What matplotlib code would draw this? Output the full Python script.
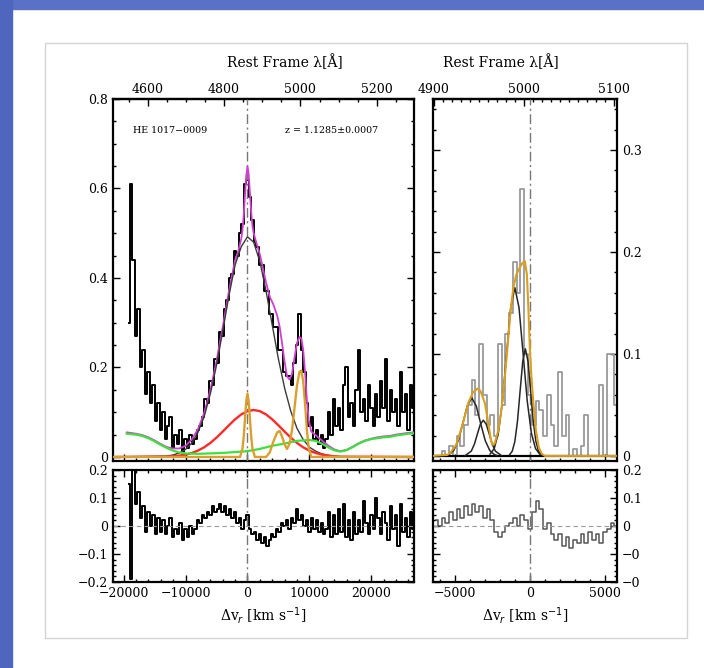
import numpy as np
import matplotlib
matplotlib.use("Agg")
import matplotlib.pyplot as plt
from matplotlib.patches import Rectangle
from matplotlib.ticker import MultipleLocator, FuncFormatter, FixedLocator, FixedFormatter

C_KMS = 299792.458
HBETA = 4861.3
OIII = 5006.8

# --- Hbeta region: spectrum + residuals, one value every 400 km/s from -19200 km/s
hb_v0, hb_dv = -19200, 400
hb_flux = [
    0.30, 0.61, 0.44, 0.27, 0.33, 0.20, 0.24, 0.14, 0.19, 0.12,
    0.16, 0.08, 0.12, 0.06, 0.10, 0.04, 0.07, 0.09, 0.02, 0.05,
    0.03, 0.06, 0.01, 0.04, 0.02, 0.05, 0.03, 0.04, 0.06, 0.07,
    0.09, 0.13, 0.12, 0.17, 0.16, 0.22, 0.21, 0.28, 0.27, 0.33,
    0.35, 0.40, 0.41, 0.46, 0.45, 0.50, 0.52, 0.61, 0.62, 0.58,
    0.53, 0.48, 0.47, 0.43, 0.43, 0.37, 0.37, 0.32, 0.32, 0.29,
    0.29, 0.24, 0.24, 0.19, 0.18, 0.18, 0.16, 0.21, 0.25, 0.32,
    0.24, 0.19, 0.12, 0.07, 0.09, 0.04, 0.06, 0.03, 0.05, 0.02,
    0.04, 0.10, 0.05, 0.13, 0.07, 0.11, 0.06, 0.16, 0.20, 0.09,
    0.12, 0.07, 0.15, 0.24, 0.10, 0.13, 0.08, 0.16, 0.11, 0.07,
    0.14, 0.09, 0.17, 0.11, 0.22, 0.08, 0.15, 0.10, 0.13, 0.07,
    0.19, 0.10, 0.14, 0.06, 0.16, 0.11,
]
hb_resid = [
    0.15, -0.19, 0.20, 0.08, 0.12, 0.03, 0.07, -0.02, 0.05, 0.00,
    0.04, -0.03, 0.03, -0.02, 0.02, -0.03, 0.00, 0.03, -0.04, -0.01,
    -0.03, 0.01, -0.05, -0.01, -0.04, 0.00, -0.03, -0.01, 0.02, 0.01,
    0.04, 0.03, 0.05, 0.04, 0.07, 0.05, 0.06, 0.08, 0.05, 0.07,
    0.04, 0.06, 0.03, 0.05, 0.01, 0.03, -0.01, 0.02, 0.04, -0.01,
    -0.03, -0.02, -0.05, -0.03, -0.06, -0.04, -0.07, -0.05, -0.03, -0.04,
    -0.01, -0.02, 0.01, 0.00, 0.02, -0.01, 0.03, 0.01, 0.06, 0.02,
    0.04, 0.00, 0.02, -0.02, 0.03, -0.01, 0.02, -0.02, 0.01, -0.03,
    -0.01, 0.05, -0.04, 0.04, -0.03, 0.06, -0.02, 0.08, -0.04, 0.02,
    -0.05, 0.05, -0.03, 0.02, -0.02, 0.09, 0.01, -0.03, 0.04, -0.01,
    0.10, 0.03, -0.03, 0.05, 0.01, -0.05, 0.07, -0.01, 0.04, -0.07,
    0.08, -0.02, 0.03, -0.04, 0.05, -0.01,
]

# fit components in the Hbeta panel (velocity km/s, flux)
total_v = [-19500, -18000, -17000, -16000, -15000, -14000, -13000, -12000, -11000, -10000,
           -9000, -8000, -7000, -6000, -5000, -4000, -3000, -2000, -1500, -1000,
           -800, -600, -400, -200, 0, 200, 400, 600, 800, 1000,
           1500, 2000, 3000, 3600, 4200, 4800, 5200, 5600, 6000, 6400,
           6800, 7200, 7600, 8000, 8400, 8700, 9000, 9300, 9600, 9900,
           10300, 11000, 12000, 13000, 14000, 15000, 16000, 17000, 18000, 19000,
           20000, 21000, 22000, 23000, 24000, 25000, 26000, 27000]
total_f = [0.055, 0.052, 0.049, 0.044, 0.037, 0.029, 0.022, 0.019, 0.019, 0.025,
           0.039, 0.062, 0.098, 0.149, 0.214, 0.290, 0.370, 0.440, 0.459, 0.488,
           0.508, 0.541, 0.585, 0.628, 0.650, 0.632, 0.590, 0.548, 0.517, 0.500,
           0.476, 0.453, 0.390, 0.358, 0.340, 0.316, 0.291, 0.253, 0.212, 0.180,
           0.173, 0.186, 0.222, 0.255, 0.268, 0.265, 0.240, 0.190, 0.127, 0.082,
           0.057, 0.049, 0.037, 0.026, 0.017, 0.013, 0.016, 0.023, 0.031, 0.037,
           0.041, 0.044, 0.046, 0.047, 0.050, 0.052, 0.054, 0.055]

broad_v = [-22000, -13000, -12000, -11000, -10000, -9000, -8000, -7000, -6000, -5000,
           -4000, -3000, -2000, -1000, 0, 1000, 2000, 3000, 4000, 5000,
           6000, 7000, 8000, 9000, 10000, 11000, 12000, 13000, 14000, 15000, 28000]
broad_f = [0.0, 0.002, 0.0045, 0.009, 0.017, 0.031, 0.055, 0.090, 0.141, 0.205,
           0.281, 0.360, 0.429, 0.470, 0.492, 0.480, 0.437, 0.371, 0.295, 0.219,
           0.154, 0.102, 0.064, 0.039, 0.022, 0.013, 0.007, 0.004, 0.0016, 0.0007, 0.0]

red_v = [-22000, -13000, -12000, -11000, -10000, -9000, -8000, -7000, -6000, -5000,
         -4000, -3000, -2000, -1000, 0, 1000, 2000, 3000, 4000, 5000,
         6000, 7000, 8000, 9000, 10000, 11000, 12000, 13000, 14000, 15000, 28000]
red_f = [0.0, 0.0007, 0.0016, 0.003, 0.0053, 0.0089, 0.0142, 0.0216, 0.0313, 0.0432,
         0.0567, 0.0707, 0.0841, 0.0951, 0.1024, 0.105, 0.1024, 0.0951, 0.0841, 0.0707,
         0.0567, 0.0432, 0.0313, 0.0216, 0.0142, 0.0089, 0.0053, 0.003, 0.0016, 0.0007, 0.0]

feii_v = [-19500, -18000, -17000, -16000, -15000, -14000, -13000, -12000, -11000, -10000,
          -8000, -6000, -4000, -2000, 0, 2000, 4000, 6000, 8000, 10000,
          11000, 12000, 13000, 14000, 15000, 16000, 17000, 18000, 19000, 20000,
          21000, 22000, 23000, 24000, 25000, 26000, 27000]
feii_f = [0.052, 0.050, 0.047, 0.042, 0.035, 0.027, 0.020, 0.014, 0.010, 0.008,
          0.007, 0.008, 0.009, 0.011, 0.013, 0.018, 0.025, 0.030, 0.036, 0.038,
          0.036, 0.030, 0.022, 0.015, 0.012, 0.015, 0.022, 0.030, 0.036, 0.040,
          0.042, 0.044, 0.045, 0.048, 0.050, 0.052, 0.053]

narrow_v = [-22000, -1200, -800, -600, -400, -200, 0, 200, 400, 600,
            800, 1200, 3000, 3600, 4200, 4800, 5200, 5600, 6000, 6400,
            6800, 7200, 7600, 8000, 8400, 8700, 9000, 9300, 9600, 9900,
            10300, 28000]
narrow_f = [0.0, 0.0, 0.019, 0.046, 0.085, 0.124, 0.142, 0.124, 0.085, 0.046,
            0.019, 0.0, 0.0, 0.010, 0.035, 0.055, 0.058, 0.045, 0.028, 0.018,
            0.030, 0.060, 0.110, 0.160, 0.190, 0.193, 0.170, 0.120, 0.060, 0.020,
            0.0, 0.0]

# --- [OIII] region: spectrum + residuals, one value every 250 km/s from -6250 km/s
ox_v0, ox_dv = -6250, 250
ox_flux = [
    0.00, 0.00, 0.005, 0.00, 0.01, 0.00, 0.02, 0.01, 0.03, 0.05,
    0.074, 0.04, 0.11, 0.06, 0.03, 0.04, 0.02, 0.11, 0.05, 0.12,
    0.14, 0.19, 0.16, 0.262, 0.10, 0.06, 0.03, 0.054, 0.045, 0.02,
    0.06, 0.03, 0.01, 0.082, 0.02, 0.04, 0.00, 0.007, 0.00, 0.01,
    0.04, 0.00, 0.00, 0.00, 0.07, 0.00, 0.10, 0.10, 0.05,
]
ox_resid = [
    0.02, 0.00, 0.03, 0.01, 0.05, 0.02, 0.06, 0.03, 0.07, 0.04,
    0.08, 0.05, 0.07, 0.03, 0.06, 0.02, -0.02, -0.04, -0.02, 0.00,
    0.01, 0.03, 0.00, 0.04, 0.02, -0.01, 0.05, 0.09, 0.06, -0.01,
    0.01, -0.03, -0.05, -0.03, -0.07, -0.04, -0.08, -0.05, -0.06, -0.03,
    -0.06, -0.02, -0.05, -0.03, -0.06, -0.02, -0.01, 0.01, 0.00,
]

ox_total_v = [-6500, -5500, -5300, -4900, -4500, -4100, -3800, -3500, -3300, -3000,
              -2800, -2600, -2500, -2350, -2100, -1900, -1700, -1500, -1300, -1100,
              -900, -700, -500, -333, -200, -100, 0, 100, 220, 400,
              600, 800, 1000, 6000]
ox_total_f = [0.0, 0.001, 0.003, 0.011, 0.030, 0.052, 0.062, 0.066, 0.064, 0.052,
              0.035, 0.016, 0.011, 0.012, 0.025, 0.045, 0.072, 0.105, 0.140, 0.165,
              0.178, 0.184, 0.189, 0.191, 0.178, 0.145, 0.105, 0.078, 0.054, 0.025,
              0.008, 0.002, 0.0, 0.0]

ox_comp1_v = [-5500, -5370, -5070, -4770, -4470, -4170, -3870, -3570, -3270, -2970, -2670, -2370, -2200]
ox_comp1_f = [0.0007, 0.0014, 0.0053, 0.0149, 0.0314, 0.049, 0.057, 0.049, 0.0314, 0.0149, 0.0053, 0.0014, 0.0005]
ox_comp2_v = [-4300, -3900, -3700, -3500, -3300, -3100, -2900, -2700, -2500, -2300, -1900]
ox_comp2_f = [0.0004, 0.0047, 0.0113, 0.0212, 0.0309, 0.035, 0.0309, 0.0212, 0.0113, 0.0047, 0.0004]
ox_comp3_v = [-2650, -2375, -2100, -1825, -1550, -1275, -1000, -725, -450, -175, 100, 375, 650]
ox_comp3_f = [0.0018, 0.0072, 0.0223, 0.0536, 0.1001, 0.1456, 0.165, 0.1456, 0.1001, 0.0536, 0.0223, 0.0072, 0.0018]
ox_comp4_v = [-1350, -1175, -1000, -825, -650, -475, -300, -125, 50, 225, 400, 575, 750]
ox_comp4_f = [0.0012, 0.0046, 0.0142, 0.0341, 0.0637, 0.0927, 0.105, 0.0927, 0.0637, 0.0341, 0.0142, 0.0046, 0.0012]

# rest-frame wavelength tick labels on the top axes
hb_lam_ticks = [4600, 4800, 5000, 5200]
ox_lam_ticks = [4900, 5000, 5100]

FONT = "DejaVu Serif"
ORANGE = "#d9a030"
DASHDOT = (0, (7, 2.5, 1.5, 2.5))


def grid(v0, dv, values):
    return v0 + dv * np.arange(len(values))


def vel_to_lam(lam0):
    return (lambda v: lam0 * (1.0 + np.asarray(v) / C_KMS),
            lambda lam: (np.asarray(lam) / lam0 - 1.0) * C_KMS)


def num_fmt(val, pos):
    s = f"{val:g}"
    return s.replace("-", "\u2212")


def style_axes(ax, right_labels=False):
    for sp in ax.spines.values():
        sp.set_linewidth(1.6)
    ax.tick_params(which="both", direction="in", top=True, right=True,
                   labelsize=9, width=1.0)
    ax.tick_params(which="major", length=5)
    ax.tick_params(which="minor", length=2.5)
    if right_labels:
        ax.tick_params(labelleft=False, labelright=True)


def add_top_axis(ax, lam0, ticks, minor, label_x):
    fwd, inv = vel_to_lam(lam0)
    sec = ax.secondary_xaxis("top", functions=(fwd, inv))
    sec.xaxis.set_major_locator(FixedLocator(ticks))
    sec.xaxis.set_major_formatter(FixedFormatter([str(t) for t in ticks]))
    sec.xaxis.set_minor_locator(MultipleLocator(minor))
    sec.tick_params(which="both", direction="in", labelsize=9, width=1.0, pad=2)
    sec.tick_params(which="major", length=5)
    sec.tick_params(which="minor", length=2.5)
    sec.spines["top"].set_linewidth(1.6)
    ax.tick_params(which="both", top=False)
    ax.text(label_x, 1.102, "Rest Frame \u03bb[\u00c5]", transform=ax.transAxes,
            fontsize=10, ha="center", va="center")
    return sec


def main():
    plt.rcParams["font.family"] = [FONT, "DejaVu Sans"]
    fig = plt.figure(figsize=(7.04, 6.68), dpi=100)
    W, H = 704.0, 668.0

    # slide-like frame
    fig.patches.append(Rectangle((0, 1 - 9 / H), 1, 9 / H, transform=fig.transFigure,
                                 color="#5a72c6", zorder=0))
    fig.patches.append(Rectangle((0, 0), 12 / W, 1, transform=fig.transFigure,
                                 color="#4e66be", zorder=0))
    fig.patches.append(Rectangle((45 / W, 1 - 638 / H), 642 / W, 595 / H,
                                 transform=fig.transFigure, fill=False,
                                 edgecolor="#d4d4d4", lw=1.0, zorder=0))

    def box(x0, y0, x1, y1):
        return [x0 / W, 1 - y1 / H, (x1 - x0) / W, (y1 - y0) / H]

    ax1 = fig.add_axes(box(112.5, 99, 414, 461))
    ax2 = fig.add_axes(box(112.5, 470, 414, 582))
    ax3 = fig.add_axes(box(433, 99, 617, 461))
    ax4 = fig.add_axes(box(433, 470, 617, 582))

    hb_v = grid(hb_v0, hb_dv, hb_flux)
    ox_v = grid(ox_v0, ox_dv, ox_flux)

    # Hbeta panel
    ax1.step(hb_v, hb_flux, where="mid", color="black", lw=1.4, zorder=2)
    ax1.axvline(0, color="#777777", lw=1.0, ls=DASHDOT, zorder=3)
    ax1.plot(total_v, total_f, color="#d040d0", lw=1.3, zorder=4)
    ax1.plot(broad_v, broad_f, color="#3a3a3a", lw=1.0, zorder=4)
    ax1.plot(red_v, red_f, color="#ff2a2a", lw=1.7, zorder=5)
    ax1.plot(feii_v, feii_f, color="#3ee03e", lw=1.6, zorder=5)
    ax1.plot(narrow_v, narrow_f, color=ORANGE, lw=1.7, zorder=6)
    ax1.set_xlim(-21800, 26900)
    ax1.set_ylim(-0.009, 0.8)
    ax1.xaxis.set_major_locator(MultipleLocator(10000))
    ax1.xaxis.set_minor_locator(MultipleLocator(2000))
    ax1.yaxis.set_major_locator(MultipleLocator(0.2))
    ax1.yaxis.set_minor_locator(MultipleLocator(0.05))
    ax1.yaxis.set_major_formatter(FuncFormatter(num_fmt))
    style_axes(ax1)
    ax1.tick_params(labelbottom=False)
    add_top_axis(ax1, HBETA, hb_lam_ticks, 50, 0.573)
    ax1.text(0.19, 0.912, "HE 1017\u22120009", transform=ax1.transAxes, fontsize=6.8,
             ha="center", va="center")
    ax1.text(0.725, 0.912, "z = 1.1285\u00b10.0007", transform=ax1.transAxes, fontsize=6.8,
             ha="center", va="center")

    # Hbeta residuals
    ax2.step(hb_v, hb_resid, where="mid", color="black", lw=1.4)
    ax2.axvline(0, color="#777777", lw=1.0, ls=DASHDOT)
    ax2.axhline(0, color="#999999", lw=0.8, ls=(0, (4, 3)))
    ax2.set_xlim(-21800, 26900)
    ax2.set_ylim(-0.2, 0.2)
    ax2.xaxis.set_major_locator(MultipleLocator(10000))
    ax2.xaxis.set_minor_locator(MultipleLocator(2000))
    ax2.yaxis.set_major_locator(MultipleLocator(0.1))
    ax2.yaxis.set_minor_locator(MultipleLocator(0.02))
    ax2.xaxis.set_major_formatter(FuncFormatter(num_fmt))
    ax2.yaxis.set_major_formatter(FuncFormatter(num_fmt))
    style_axes(ax2)
    ax2.set_xlabel("\u0394v$_r$ [km s$^{-1}$]", fontsize=10, labelpad=4)

    # [OIII] panel
    ax3.step(ox_v, ox_flux, where="mid", color="#9a9a9a", lw=1.3, zorder=2)
    ax3.axvline(0, color="#777777", lw=1.0, ls=DASHDOT, zorder=3)
    ax3.axhline(0, color="black", lw=1.6, zorder=3)
    for cv, cf in [(ox_comp1_v, ox_comp1_f), (ox_comp2_v, ox_comp2_f),
                   (ox_comp3_v, ox_comp3_f), (ox_comp4_v, ox_comp4_f)]:
        ax3.plot(cv, cf, color="#262626", lw=1.1, zorder=4)
    ax3.plot(ox_total_v, ox_total_f, color="#d9a020", lw=1.5, zorder=5)
    ax3.set_xlim(-6450, 5800)
    ax3.set_ylim(-0.005, 0.35)
    ax3.xaxis.set_major_locator(MultipleLocator(5000))
    ax3.xaxis.set_minor_locator(MultipleLocator(1000))
    ax3.yaxis.set_major_locator(MultipleLocator(0.1))
    ax3.yaxis.set_minor_locator(MultipleLocator(0.02))
    ax3.yaxis.set_major_formatter(FuncFormatter(num_fmt))
    style_axes(ax3, right_labels=True)
    ax3.tick_params(labelbottom=False)
    add_top_axis(ax3, OIII, ox_lam_ticks, 10, 0.37)

    # [OIII] residuals
    ax4.step(ox_v, ox_resid, where="mid", color="#555555", lw=1.1)
    ax4.axvline(0, color="#777777", lw=1.0, ls=DASHDOT)
    ax4.axhline(0, color="#999999", lw=0.8, ls=(0, (4, 3)))
    ax4.set_xlim(-6450, 5800)
    ax4.set_ylim(-0.2, 0.2)
    ax4.xaxis.set_major_locator(MultipleLocator(5000))
    ax4.xaxis.set_minor_locator(MultipleLocator(1000))
    ax4.yaxis.set_major_locator(FixedLocator([0.2, 0.1, 0.0, -0.1, -0.2]))
    ax4.yaxis.set_major_formatter(FixedFormatter(["0.2", "0.1", "0", "\u22120", "\u22120"]))
    ax4.yaxis.set_minor_locator(MultipleLocator(0.02))
    ax4.xaxis.set_major_formatter(FuncFormatter(num_fmt))
    style_axes(ax4, right_labels=True)
    ax4.set_xlabel("\u0394v$_r$ [km s$^{-1}$]", fontsize=10, labelpad=4)

    fig.savefig("out.png", dpi=100)


if __name__ == "__main__":
    main()
